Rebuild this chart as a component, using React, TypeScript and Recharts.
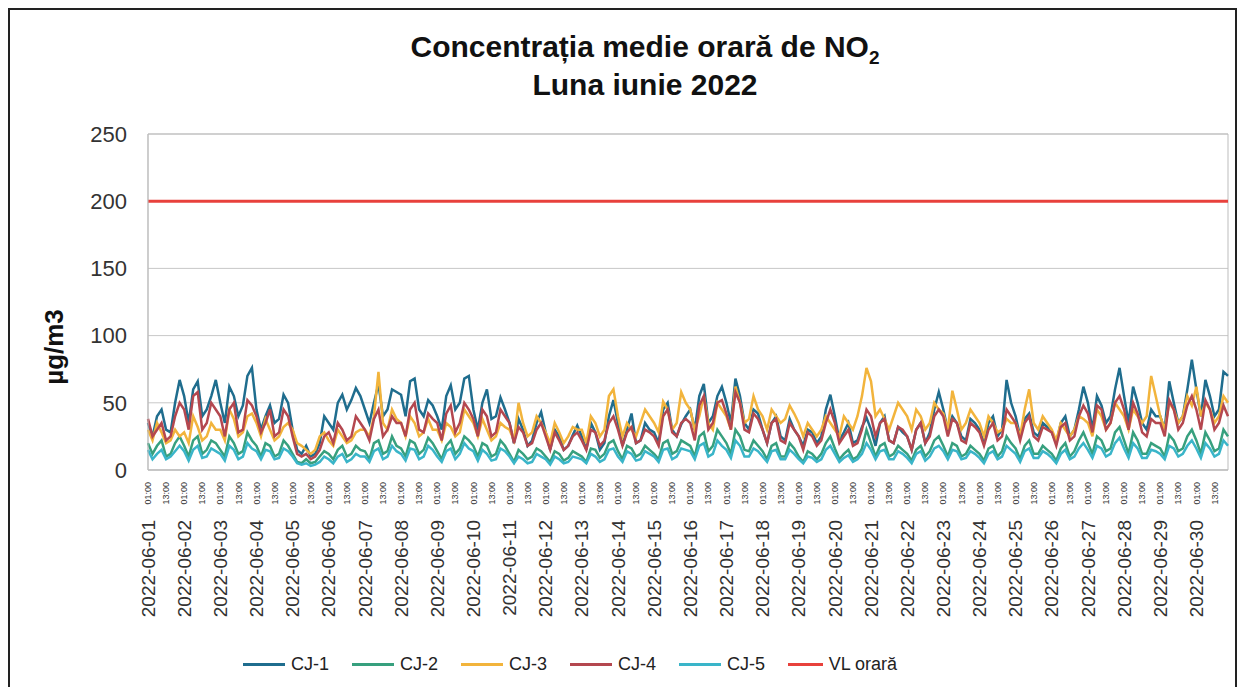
import React from "react";
import { LineChart, Line, XAxis, YAxis, CartesianGrid, Legend, ReferenceArea } from "recharts";

const DAYS = [
  "2022-06-01", "2022-06-02", "2022-06-03", "2022-06-04", "2022-06-05", "2022-06-06",
  "2022-06-07", "2022-06-08", "2022-06-09", "2022-06-10", "2022-06-11", "2022-06-12",
  "2022-06-13", "2022-06-14", "2022-06-15", "2022-06-16", "2022-06-17", "2022-06-18",
  "2022-06-19", "2022-06-20", "2022-06-21", "2022-06-22", "2022-06-23", "2022-06-24",
  "2022-06-25", "2022-06-26", "2022-06-27", "2022-06-28", "2022-06-29", "2022-06-30",
];
const HOURS = ["01:00", "04:00", "07:00", "10:00", "13:00", "16:00", "19:00", "22:00"];
const Y_TICKS = [0, 50, 100, 150, 200, 250];
const VL_ORARA = 200;

// one row per day, 3-hour steps
const CJ1 = [
  35, 25, 40, 45, 30, 28, 50, 67,
  55, 35, 60, 66, 40, 45, 55, 67,
  50, 35, 62, 55, 40, 48, 70, 76,
  45, 30, 40, 48, 35, 38, 56, 50,
  30, 15, 12, 18, 10, 12, 20, 40,
  35, 30, 50, 56, 45, 52, 61, 55,
  45, 35, 50, 64, 40, 45, 60, 58,
  56, 40, 66, 68, 45, 40, 52, 48,
  40, 30, 55, 63, 45, 50, 68, 70,
  45, 30, 50, 60, 38, 40, 54, 45,
  35, 20, 38, 30, 18, 22, 35, 43,
  28, 15, 30, 25, 15, 18, 26, 33,
  25, 15, 35, 28, 15, 20, 40, 52,
  35, 18, 30, 42, 20, 22, 35, 30,
  28, 20, 45, 50, 30, 25, 34, 40,
  45, 30, 55, 64, 35, 40, 55, 62,
  50, 35, 68, 55, 35, 30, 45, 42,
  30, 20, 35, 40, 25, 22, 38, 30,
  25, 18, 30, 28, 20, 25, 45, 56,
  40, 22, 28, 35, 20, 22, 32, 39,
  30, 18, 35, 40, 22, 20, 32, 28,
  25, 15, 30, 35, 20, 28, 45, 58,
  45, 30, 40, 35, 25, 22, 38, 35,
  30, 20, 35, 40, 25, 30, 67, 50,
  40, 25, 38, 42, 28, 25, 35, 32,
  28, 20, 35, 40, 25, 30, 45, 62,
  50, 30, 55, 48, 35, 40, 60, 76,
  55, 35, 62, 50, 35, 30, 45, 40,
  40, 30, 66, 50, 35, 40, 60, 82,
  60, 40, 67, 55, 40, 45, 73, 70,
];

const CJ2 = [
  20, 12, 18, 22, 10, 12, 20, 25,
  18, 10, 22, 25, 12, 15, 22, 20,
  15, 10, 25, 20, 12, 14, 28, 22,
  18, 10, 20, 18, 10, 12, 22, 18,
  12, 6, 5, 8, 5, 6, 10, 14,
  12, 8, 15, 18, 10, 12, 18, 15,
  14, 8, 20, 22, 12, 14, 25, 18,
  16, 10, 22, 20, 12, 15, 24, 20,
  14, 8, 18, 22, 12, 16, 25, 22,
  18, 10, 20, 18, 10, 12, 22, 18,
  12, 6, 15, 12, 8, 10, 16, 14,
  10, 6, 14, 12, 7, 9, 14, 12,
  10, 6, 16, 15, 9, 12, 20, 22,
  14, 8, 18, 16, 10, 12, 18, 15,
  12, 8, 20, 22, 12, 14, 22, 20,
  18, 10, 25, 28, 14, 18, 30, 25,
  20, 12, 30, 25, 15, 14, 22, 18,
  14, 8, 18, 20, 10, 10, 20, 16,
  10, 6, 14, 12, 8, 12, 20, 25,
  16, 8, 12, 15, 8, 10, 16, 30,
  20, 10, 18, 20, 10, 12, 18, 15,
  12, 7, 15, 18, 10, 14, 22, 25,
  18, 10, 20, 18, 10, 12, 18, 15,
  12, 7, 16, 18, 10, 14, 25, 20,
  16, 8, 18, 22, 12, 12, 18, 15,
  12, 7, 16, 20, 10, 14, 22, 28,
  20, 12, 25, 22, 14, 16, 28, 32,
  22, 12, 28, 22, 12, 12, 20, 18,
  16, 10, 26, 22, 14, 16, 25, 30,
  22, 12, 28, 22, 14, 16, 30, 25,
];

const CJ3 = [
  30, 22, 35, 28, 20, 22, 30, 25,
  28, 20, 40, 32, 22, 25, 35, 30,
  30, 22, 45, 38, 25, 28, 40, 42,
  35, 25, 38, 30, 22, 25, 32, 35,
  30, 20, 18, 15, 12, 15, 25, 28,
  22, 18, 30, 25, 20, 22, 28, 30,
  30, 25, 40, 73, 35, 30, 45, 38,
  35, 25, 40, 35, 25, 28, 38, 30,
  30, 22, 35, 32, 25, 28, 45, 40,
  35, 25, 38, 30, 22, 25, 35, 32,
  30, 22, 50, 35, 25, 28, 40, 35,
  28, 20, 35, 28, 20, 25, 32, 30,
  30, 20, 40, 35, 25, 30, 55, 60,
  40, 25, 35, 30, 25, 35, 45, 40,
  35, 28, 51, 45, 30, 35, 58, 50,
  45, 30, 40, 55, 35, 30, 50, 45,
  40, 30, 62, 50, 35, 38, 55, 45,
  40, 30, 45, 40, 35, 38, 48, 42,
  35, 25, 35, 30, 25, 30, 40, 35,
  30, 25, 40, 35, 30, 40, 55, 76,
  66, 40, 45, 38, 30, 40, 50, 45,
  40, 30, 45, 40, 30, 35, 50, 45,
  42, 30, 59, 45, 30, 35, 45, 40,
  35, 25, 40, 35, 28, 30, 38, 35,
  35, 25, 45, 60, 35, 30, 40, 35,
  30, 22, 35, 30, 25, 30, 40, 38,
  35, 25, 45, 40, 30, 35, 50, 45,
  40, 30, 45, 40, 35, 40, 70, 55,
  40, 30, 50, 45, 35, 40, 55, 48,
  62, 40, 50, 45, 35, 40, 55, 50,
];

const CJ4 = [
  38, 25, 30, 35, 22, 25, 40, 50,
  45, 30, 55, 58, 30, 35, 50, 45,
  40, 25, 45, 50, 28, 30, 52, 48,
  40, 28, 35, 45, 25, 28, 45, 40,
  25, 12, 10, 12, 8, 10, 15, 25,
  28, 20, 35, 30, 22, 25, 40, 35,
  30, 22, 38, 45, 25, 30, 40, 35,
  35, 25, 45, 50, 30, 28, 42, 38,
  35, 22, 42, 48, 28, 35, 50, 45,
  38, 25, 45, 40, 25, 28, 45, 40,
  35, 20, 32, 28, 18, 20, 30, 35,
  25, 15, 28, 22, 15, 18, 25, 28,
  22, 15, 30, 28, 18, 22, 35, 40,
  30, 18, 28, 32, 20, 22, 30, 28,
  25, 18, 40, 45, 28, 25, 35, 38,
  35, 22, 48, 55, 30, 35, 50, 52,
  42, 30, 58, 50, 30, 28, 42, 38,
  30, 20, 35, 38, 22, 20, 35, 30,
  25, 15, 28, 25, 18, 22, 35, 45,
  35, 20, 25, 30, 18, 20, 30, 45,
  40, 25, 35, 38, 22, 20, 32, 30,
  25, 15, 30, 35, 20, 25, 40, 45,
  40, 25, 38, 35, 22, 20, 35, 32,
  28, 18, 30, 35, 22, 25, 45, 40,
  35, 22, 35, 40, 25, 22, 32, 30,
  28, 18, 32, 35, 22, 25, 40, 48,
  42, 28, 48, 45, 30, 35, 50, 55,
  45, 30, 50, 42, 28, 25, 38, 35,
  35, 25, 52, 45, 30, 35, 48, 55,
  45, 30, 52, 45, 30, 35, 48, 40,
];

const CJ5 = [
  15, 8, 12, 15, 8, 10, 14, 18,
  14, 7, 15, 18, 9, 10, 16, 14,
  12, 7, 18, 15, 8, 10, 20, 16,
  14, 8, 15, 14, 8, 9, 16, 14,
  10, 5, 4, 5, 3, 4, 6, 10,
  8, 5, 10, 12, 6, 8, 12, 10,
  10, 6, 14, 16, 8, 10, 18, 14,
  12, 7, 16, 15, 8, 10, 18, 15,
  10, 6, 14, 16, 8, 12, 20, 16,
  14, 7, 15, 12, 7, 8, 16, 14,
  10, 5, 10, 8, 5, 6, 12, 10,
  8, 4, 10, 8, 5, 6, 10, 9,
  8, 5, 12, 10, 6, 8, 15, 16,
  10, 6, 14, 12, 7, 8, 14, 12,
  10, 6, 15, 16, 8, 10, 16, 15,
  14, 8, 18, 20, 10, 12, 22, 18,
  15, 9, 22, 18, 10, 10, 16, 14,
  10, 6, 14, 15, 8, 8, 15, 12,
  8, 5, 10, 9, 6, 8, 15, 18,
  12, 6, 9, 11, 6, 8, 12, 20,
  15, 8, 14, 15, 8, 8, 14, 12,
  9, 5, 12, 14, 7, 10, 16, 18,
  14, 8, 15, 14, 8, 9, 14, 12,
  9, 5, 12, 14, 8, 10, 18, 15,
  12, 6, 14, 16, 9, 9, 14, 12,
  9, 5, 12, 15, 8, 10, 16, 20,
  15, 9, 18, 16, 10, 12, 20, 24,
  16, 9, 20, 16, 9, 9, 15, 14,
  12, 8, 18, 16, 10, 12, 18, 22,
  16, 9, 20, 16, 10, 12, 22, 18,
];

const SERIES = [
  { key: "cj1", name: "CJ-1", color: "#1f6d8e", values: CJ1 },
  { key: "cj2", name: "CJ-2", color: "#37a07e", values: CJ2 },
  { key: "cj3", name: "CJ-3", color: "#f2b43c", values: CJ3 },
  { key: "cj4", name: "CJ-4", color: "#b4474f", values: CJ4 },
  { key: "cj5", name: "CJ-5", color: "#3ab5c9", values: CJ5 },
];
const VL = { key: "vl", name: "VL orară", color: "#e8413c" };

const categories = DAYS.flatMap((d) => HOURS.map((h) => `${d} ${h}`));
const data = categories.map((c, i) => {
  const row: Record<string, string | number> = { t: c, vl: VL_ORARA };
  SERIES.forEach((s) => (row[s.key] = s.values[i]));
  return row;
});

const FONT = "Arial, 'Liberation Sans', sans-serif";

const DateTick = ({ x, y, payload }: any) => {
  const [date, time] = String(payload.value).split(" ");
  return (
    <g transform={`translate(${x},${y})`} fontFamily={FONT} fill="#333">
      <text transform="rotate(-90)" x={-4} y={0} dy="0.35em" textAnchor="end" fontSize={9}>
        {time}
      </text>
      {time === HOURS[0] && (
        <text transform="rotate(-90)" x={-42} y={0} dy="0.35em" textAnchor="end" fontSize={19}>
          {date}
        </text>
      )}
    </g>
  );
};

const renderLegend = () => (
  <div style={{ display: "flex", fontFamily: FONT, fontSize: 18, color: "#222", whiteSpace: "nowrap" }}>
    {[...SERIES, VL].map((s) => (
      <div key={s.key} style={{ width: 109, display: "flex", alignItems: "center" }}>
        <span style={{ display: "inline-block", width: 42, height: 3, background: s.color, marginRight: 6 }} />
        <span>{s.name}</span>
      </div>
    ))}
  </div>
);

export default function App() {
  return (
    <div
      style={{
        position: "relative",
        width: 1225,
        height: 679,
        border: "2px solid #222",
        borderBottom: "none",
        background: "#fff",
        fontFamily: FONT,
      }}
    >
      <div
        style={{
          position: "absolute",
          left: 635,
          top: 18,
          transform: "translateX(-50%)",
          textAlign: "center",
          fontWeight: "bold",
          fontSize: 30,
          lineHeight: "38px",
          color: "#111",
          whiteSpace: "nowrap",
        }}
      >
        <div>
          Concentrația medie orară de NO<sub style={{ fontSize: 19, lineHeight: 0 }}>2</sub>
        </div>
        <div>Luna iunie 2022</div>
      </div>
      <div
        style={{
          position: "absolute",
          left: 44,
          top: 337,
          transform: "translate(-50%, -50%) rotate(-90deg)",
          fontWeight: "bold",
          fontSize: 26,
          color: "#111",
          whiteSpace: "nowrap",
        }}
      >
        µg/m3
      </div>
      <LineChart width={1225} height={677} data={data} margin={{ top: 124, right: 7, left: 78, bottom: 12 }}>
        <CartesianGrid vertical={false} stroke="#c8c8c8" />
        <ReferenceArea x1={categories[0]} x2={categories[categories.length - 1]} y1={0} y2={250} fill="none" stroke="#bdbdbd" />
        <XAxis
          dataKey="t"
          interval={3}
          height={184}
          tick={<DateTick />}
          tickLine={false}
          tickSize={0}
          tickMargin={8}
          axisLine={{ stroke: "#bdbdbd" }}
        />
        <YAxis
          domain={[0, 250]}
          ticks={Y_TICKS}
          width={60}
          tickLine={false}
          tickSize={0}
          tickMargin={21}
          axisLine={{ stroke: "#bdbdbd" }}
          tick={{ fontSize: 22, fill: "#333", fontFamily: FONT }}
        />
        {SERIES.map((s) => (
          <Line
            key={s.key}
            dataKey={s.key}
            name={s.name}
            stroke={s.color}
            strokeWidth={2.5}
            dot={false}
            isAnimationActive={false}
          />
        ))}
        <Line dataKey={VL.key} name={VL.name} stroke={VL.color} strokeWidth={3} dot={false} isAnimationActive={false} />
        <Legend content={renderLegend} wrapperStyle={{ left: 233, width: 720, bottom: 12 }} />
      </LineChart>
    </div>
  );
}
